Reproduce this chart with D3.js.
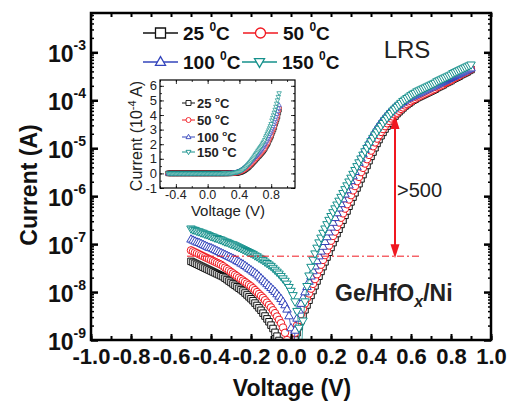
<!DOCTYPE html>
<html>
<head>
<meta charset="utf-8">
<script src="https://cdn.jsdelivr.net/npm/d3@7"></script>
<style>
  body { margin: 0; background: #fff; }
  svg { font-family: "Liberation Sans", Arial, sans-serif; }
</style>
</head>
<body>
<svg id="chart" width="513" height="403"></svg>
<script>
// sweep voltage (V)
const voltage = [
  -0.50,-0.49,-0.48,-0.47,-0.46,-0.45,-0.44,-0.43,-0.42,-0.41,
  -0.40,-0.39,-0.38,-0.37,-0.36,-0.35,-0.34,-0.33,-0.32,-0.31,
  -0.30,-0.29,-0.28,-0.27,-0.26,-0.25,-0.24,-0.23,-0.22,-0.21,
  -0.20,-0.19,-0.18,-0.17,-0.16,-0.15,-0.14,-0.13,-0.12,-0.11,
  -0.10,-0.09,-0.08,-0.07,-0.06,-0.05,-0.04,-0.03,-0.02,-0.01,
  0.00,0.01,0.02,0.03,0.04,0.05,0.06,0.07,0.08,0.09,
  0.10,0.11,0.12,0.13,0.14,0.15,0.16,0.17,0.18,0.19,
  0.20,0.21,0.22,0.23,0.24,0.25,0.26,0.27,0.28,0.29,
  0.30,0.31,0.32,0.33,0.34,0.35,0.36,0.37,0.38,0.39,
  0.40,0.41,0.42,0.43,0.44,0.45,0.46,0.47,0.48,0.49,
  0.50,0.51,0.52,0.53,0.54,0.55,0.56,0.57,0.58,0.59,
  0.60,0.61,0.62,0.63,0.64,0.65,0.66,0.67,0.68,0.69,
  0.70,0.71,0.72,0.73,0.74,0.75,0.76,0.77,0.78,0.79,
  0.80,0.81,0.82,0.83,0.84,0.85,0.86,0.87,0.88,0.89,
  0.90
];

// log10 of |current| (A)
const logI25 = [
  -7.36,-7.38,-7.40,-7.42,-7.44,-7.46,-7.48,-7.50,-7.52,-7.54,
  -7.56,-7.58,-7.60,-7.62,-7.64,-7.66,-7.68,-7.71,-7.74,-7.77,
  -7.80,-7.83,-7.86,-7.89,-7.92,-7.95,-7.98,-8.02,-8.06,-8.10,
  -8.14,-8.18,-8.23,-8.28,-8.33,-8.38,-8.44,-8.50,-8.56,-8.62,
  -8.69,-8.76,-8.84,-8.92,-9.01,-9.11,-9.23,-9.40,-9.70,-10.0,
  -9.60,-9.25,-9.00,-8.85,-8.72,-8.60,-8.48,-8.37,-8.27,-8.17,
  -8.07,-7.97,-7.87,-7.77,-7.67,-7.57,-7.47,-7.37,-7.27,-7.17,
  -7.07,-6.97,-6.88,-6.78,-6.69,-6.59,-6.50,-6.40,-6.31,-6.21,
  -6.12,-6.02,-5.93,-5.83,-5.74,-5.64,-5.55,-5.45,-5.36,-5.26,
  -5.17,-5.08,-4.99,-4.90,-4.82,-4.74,-4.67,-4.60,-4.54,-4.48,
  -4.43,-4.38,-4.33,-4.28,-4.24,-4.20,-4.16,-4.12,-4.09,-4.06,
  -4.03,-4.00,-3.98,-3.95,-3.93,-3.91,-3.89,-3.87,-3.85,-3.83,
  -3.81,-3.79,-3.77,-3.74,-3.72,-3.70,-3.68,-3.65,-3.63,-3.61,
  -3.59,-3.56,-3.54,-3.52,-3.50,-3.47,-3.45,-3.43,-3.41,-3.38,
  -3.36
];
const logI50 = [
  -7.13,-7.15,-7.17,-7.19,-7.21,-7.23,-7.25,-7.27,-7.29,-7.31,
  -7.33,-7.35,-7.37,-7.39,-7.41,-7.43,-7.46,-7.49,-7.52,-7.55,
  -7.58,-7.61,-7.64,-7.67,-7.70,-7.73,-7.76,-7.79,-7.82,-7.85,
  -7.88,-7.92,-7.96,-8.00,-8.04,-8.08,-8.12,-8.17,-8.22,-8.27,
  -8.32,-8.38,-8.44,-8.51,-8.58,-8.65,-8.74,-8.85,-9.00,-9.30,
  -9.60,-9.10,-8.85,-8.70,-8.58,-8.46,-8.35,-8.24,-8.13,-8.03,
  -7.93,-7.83,-7.73,-7.63,-7.53,-7.43,-7.33,-7.23,-7.13,-7.03,
  -6.93,-6.83,-6.74,-6.64,-6.55,-6.45,-6.36,-6.26,-6.17,-6.07,
  -5.98,-5.88,-5.79,-5.69,-5.60,-5.50,-5.41,-5.32,-5.23,-5.14,
  -5.05,-4.96,-4.88,-4.80,-4.73,-4.66,-4.60,-4.54,-4.48,-4.43,
  -4.38,-4.34,-4.30,-4.26,-4.22,-4.18,-4.15,-4.11,-4.08,-4.05,
  -4.02,-3.99,-3.97,-3.94,-3.92,-3.90,-3.88,-3.86,-3.84,-3.82,
  -3.80,-3.78,-3.76,-3.73,-3.71,-3.69,-3.67,-3.64,-3.62,-3.60,
  -3.58,-3.55,-3.53,-3.51,-3.49,-3.46,-3.44,-3.42,-3.40,-3.37,
  -3.35
];
const logI100 = [
  -6.90,-6.92,-6.94,-6.96,-6.97,-6.99,-7.01,-7.03,-7.05,-7.07,
  -7.08,-7.10,-7.12,-7.14,-7.16,-7.18,-7.20,-7.22,-7.24,-7.26,
  -7.28,-7.30,-7.32,-7.35,-7.37,-7.40,-7.42,-7.45,-7.48,-7.51,
  -7.54,-7.57,-7.60,-7.63,-7.67,-7.71,-7.75,-7.79,-7.83,-7.87,
  -7.91,-7.95,-7.99,-8.04,-8.09,-8.14,-8.20,-8.27,-8.36,-8.50,
  -8.75,-9.40,-8.80,-8.55,-8.38,-8.24,-8.12,-8.00,-7.89,-7.78,
  -7.67,-7.56,-7.46,-7.35,-7.25,-7.15,-7.05,-6.95,-6.85,-6.75,
  -6.65,-6.55,-6.45,-6.35,-6.25,-6.16,-6.06,-5.96,-5.87,-5.77,
  -5.68,-5.58,-5.49,-5.39,-5.30,-5.21,-5.12,-5.03,-4.95,-4.87,
  -4.79,-4.72,-4.65,-4.58,-4.52,-4.46,-4.41,-4.36,-4.31,-4.27,
  -4.23,-4.19,-4.15,-4.12,-4.09,-4.06,-4.03,-4.00,-3.97,-3.95,
  -3.93,-3.91,-3.89,-3.87,-3.85,-3.83,-3.81,-3.79,-3.77,-3.75,
  -3.73,-3.71,-3.69,-3.67,-3.65,-3.63,-3.61,-3.59,-3.57,-3.55,
  -3.53,-3.51,-3.49,-3.47,-3.45,-3.43,-3.41,-3.39,-3.37,-3.35,
  -3.33
];
const logI150 = [
  -6.68,-6.70,-6.71,-6.73,-6.74,-6.76,-6.77,-6.79,-6.80,-6.82,
  -6.84,-6.85,-6.87,-6.88,-6.90,-6.91,-6.93,-6.95,-6.96,-6.98,
  -7.00,-7.01,-7.03,-7.05,-7.07,-7.09,-7.11,-7.13,-7.15,-7.17,
  -7.19,-7.21,-7.24,-7.26,-7.29,-7.31,-7.34,-7.37,-7.40,-7.43,
  -7.46,-7.50,-7.54,-7.58,-7.62,-7.67,-7.72,-7.77,-7.83,-7.90,
  -7.98,-8.07,-8.20,-8.40,-8.75,-9.40,-8.60,-8.20,-7.88,-7.66,
  -7.48,-7.33,-7.20,-7.08,-6.97,-6.87,-6.77,-6.68,-6.59,-6.50,
  -6.42,-6.34,-6.26,-6.18,-6.10,-6.02,-5.94,-5.86,-5.78,-5.70,
  -5.62,-5.54,-5.46,-5.38,-5.30,-5.22,-5.14,-5.07,-5.00,-4.93,
  -4.86,-4.79,-4.72,-4.66,-4.60,-4.54,-4.48,-4.42,-4.37,-4.32,
  -4.27,-4.22,-4.18,-4.14,-4.10,-4.06,-4.02,-3.99,-3.96,-3.93,
  -3.90,-3.87,-3.85,-3.82,-3.80,-3.78,-3.76,-3.74,-3.72,-3.70,
  -3.68,-3.66,-3.64,-3.61,-3.59,-3.57,-3.55,-3.53,-3.51,-3.49,
  -3.47,-3.44,-3.42,-3.40,-3.38,-3.36,-3.34,-3.32,-3.30,-3.28,
  -3.26
];

const temperatures = ['25', '50', '100', '150'];
const yTickExps = [-9, -8, -7, -6, -5, -4, -3];
const xTickLabels = ['-1.0', '-0.8', '-0.6', '-0.4', '-0.2', '0.0', '0.2', '0.4', '0.6', '0.8', '1.0'];
const insetYTicks = ['-1', '0', '1', '2', '3', '4', '5', '6'];
const insetXTicks = ['-0.4', '0.0', '0.4', '0.8'];

// annotation levels
const refLevel = 5.6e-8;      // dash-dot line
const arrowV = 0.52;
const arrowTop = 4.9e-5;
const ratioText = '>500';

const colors = ['#111111', '#f01820', '#3344bb', '#14908b'];
const shapes = ['square', 'circle', 'up', 'down'];
const currents = [logI25, logI50, logI100, logI150];

const svg = d3.select('#chart');

const x = d3.scaleLinear().domain([-1, 1]).range([91, 491]);
const y = d3.scaleLog().domain([1e-9, Math.pow(10, -2.18)]).range([340, 13]);

function markerPath(shape, s) {
  const h = s * 0.866;
  if (shape === 'square') return `M${-s / 2},${-s / 2}h${s}v${s}h${-s}Z`;
  if (shape === 'circle') return d3.symbol(d3.symbolCircle, Math.PI * (s / 2) * (s / 2))();
  if (shape === 'up') return `M0,${-h * 0.62}L${s / 2},${h * 0.38}L${-s / 2},${h * 0.38}Z`;
  return `M0,${h * 0.62}L${s / 2},${-h * 0.38}L${-s / 2},${-h * 0.38}Z`;
}
const markerSize = {square: 6.5, circle: 7.5, up: 8.5, down: 8.5};

svg.append('defs').append('clipPath').attr('id', 'clip')
  .append('rect').attr('x', 91).attr('y', 13).attr('width', 400).attr('height', 327);

// ---- main data ----
const plot = svg.append('g').attr('clip-path', 'url(#clip)');
const line = d3.line().x(d => x(d[0])).y(d => y(d[1]));

currents.forEach((logs, k) => {
  const pts = voltage.map((v, i) => [v, Math.pow(10, logs[i])]);
  plot.append('path').datum(pts)
    .attr('d', line)
    .attr('fill', 'none')
    .attr('stroke', colors[k])
    .attr('stroke-width', 0.8);
  plot.selectAll(null).data(pts).enter().append('path')
    .attr('d', markerPath(shapes[k], markerSize[shapes[k]]))
    .attr('transform', d => `translate(${x(d[0])},${y(d[1])})`)
    .attr('fill', '#fff')
    .attr('stroke', colors[k])
    .attr('stroke-width', 1);
});

// dash-dot reference line and arrow
svg.append('line')
  .attr('x1', x(-0.52)).attr('x2', x(0.655))
  .attr('y1', y(refLevel)).attr('y2', y(refLevel))
  .attr('stroke', '#f01820').attr('stroke-width', 1)
  .attr('stroke-dasharray', '7,3,2,3');

const ax = x(arrowV);
const yTop = y(arrowTop), yBot = y(refLevel) + 2;
svg.append('line')
  .attr('x1', ax).attr('x2', ax).attr('y1', yTop + 10).attr('y2', yBot - 10)
  .attr('stroke', '#f01820').attr('stroke-width', 2);
svg.append('path')
  .attr('d', `M${ax},${yTop}L${ax + 4.5},${yTop + 14}L${ax - 4.5},${yTop + 14}Z`)
  .attr('fill', '#f01820');
svg.append('path')
  .attr('d', `M${ax},${yBot}L${ax + 4.5},${yBot - 14}L${ax - 4.5},${yBot - 14}Z`)
  .attr('fill', '#f01820');

svg.append('text').attr('x', 397).attr('y', 197)
  .attr('font-size', 20).attr('fill', '#222').text(ratioText);
svg.append('text').attr('x', 407).attr('y', 58)
  .attr('text-anchor', 'middle').attr('font-size', 24).attr('fill', '#222').text('LRS');

const ge = svg.append('text').attr('x', 335).attr('y', 301)
  .attr('font-size', 23).attr('font-weight', 'bold').attr('fill', '#222');
ge.append('tspan').text('Ge/HfO');
ge.append('tspan').attr('dy', 6).attr('font-size', 16).attr('font-style', 'italic').text('x');
ge.append('tspan').attr('dy', -6).text('/Ni');

// ---- axes ----
const xMinor = d3.range(-10, 11).map(d => d / 10);
const xMajor = xTickLabels.map(Number);
const yMinor = y.ticks().filter(v => Math.abs(Math.log10(v) - Math.round(Math.log10(v))) > 1e-6);
const yMajor = yTickExps.map(e => Math.pow(10, e));

function styleTicks(g, w) {
  g.select('.domain').remove();
  g.selectAll('.tick line').attr('stroke', '#000').attr('stroke-width', w);
}

svg.append('g').attr('transform', 'translate(0,340)')
  .call(d3.axisBottom(x).tickValues(xMinor).tickSize(-4).tickFormat(''))
  .call(g => styleTicks(g, 2));
svg.append('g').attr('transform', 'translate(0,13)')
  .call(d3.axisTop(x).tickValues(xMinor).tickSize(-4).tickFormat(''))
  .call(g => styleTicks(g, 2));
svg.append('g').attr('transform', 'translate(0,340)')
  .call(d3.axisBottom(x).tickValues(xMajor).tickSize(-6).tickPadding(8)
    .tickFormat((d, i) => xTickLabels[i]))
  .call(g => styleTicks(g, 2))
  .call(g => g.selectAll('text').attr('font-size', 22).attr('font-weight', 'bold')
    .attr('fill', '#111').attr('font-family', '"Liberation Sans", Arial, sans-serif'));

[[91, d3.axisLeft], [491, d3.axisRight]].forEach(([px, axisFn]) => {
  svg.append('g').attr('transform', `translate(${px},0)`)
    .call(axisFn(y).tickValues(yMinor).tickSize(-3).tickFormat(''))
    .call(g => styleTicks(g, 1.5));
  svg.append('g').attr('transform', `translate(${px},0)`)
    .call(axisFn(y).tickValues(yMajor).tickSize(-7).tickFormat(''))
    .call(g => styleTicks(g, 2.5));
});

// y tick labels with superscripts
const yLab = svg.append('g').attr('font-weight', 'bold').attr('fill', '#111');
yTickExps.forEach(e => {
  const t = yLab.append('text')
    .attr('x', 86).attr('y', y(Math.pow(10, e)) + 10)
    .attr('text-anchor', 'end').attr('font-size', 23);
  t.append('tspan').text('10');
  t.append('tspan').attr('dy', -12).attr('font-size', 14).text(String(e));
});

svg.append('rect')
  .attr('x', 91).attr('y', 13).attr('width', 400).attr('height', 327)
  .attr('fill', 'none').attr('stroke', '#000').attr('stroke-width', 2.5);

svg.append('text')
  .attr('x', 292).attr('y', 396).attr('text-anchor', 'middle')
  .attr('font-size', 23).attr('font-weight', 'bold').attr('fill', '#111')
  .text('Voltage (V)');
svg.append('text')
  .attr('transform', 'translate(37,185) rotate(-90)').attr('text-anchor', 'middle')
  .attr('font-size', 23).attr('font-weight', 'bold').attr('fill', '#111')
  .text('Current (A)');

// ---- main legend ----
const legendPos = [[143, 33], [243, 33], [143, 62], [242, 62]];
temperatures.forEach((t, k) => {
  const [lx, ly] = legendPos[k];
  const g = svg.append('g');
  g.append('line').attr('x1', lx).attr('x2', lx + 35).attr('y1', ly).attr('y2', ly)
    .attr('stroke', colors[k]).attr('stroke-width', 1.5);
  g.append('path').attr('d', markerPath(shapes[k], 10))
    .attr('transform', `translate(${lx + 17.5},${ly})`)
    .attr('fill', '#fff').attr('stroke', colors[k]).attr('stroke-width', 1.3);
  const txt = g.append('text').attr('x', lx + 40).attr('y', ly + 7)
    .attr('font-size', 19).attr('font-weight', 'bold').attr('fill', '#111');
  txt.append('tspan').text(t + ' ');
  txt.append('tspan').attr('dy', -9).attr('font-size', 12).text('0');
  txt.append('tspan').attr('dy', 9).text('C');
});

// ---- inset ----
const ix = d3.scaleLinear().domain([-0.6, 1.1]).range([160, 295]);
const iy = d3.scaleLinear().domain([-1, 6.4]).range([188, 80]);
const inset = svg.append('g');
inset.append('rect').attr('x', 160).attr('y', 80).attr('width', 135).attr('height', 108)
  .attr('fill', '#fff');

currents.forEach((logs, k) => {
  const pts = voltage.map((v, i) => [v, Math.pow(10, logs[i]) / 1e-4]);
  inset.append('path').datum(pts)
    .attr('d', d3.line().x(d => ix(d[0])).y(d => iy(d[1])))
    .attr('fill', 'none').attr('stroke', colors[k]).attr('stroke-width', 0.8);
  inset.selectAll(null).data(pts).enter().append('path')
    .attr('d', markerPath(shapes[k], 4.5))
    .attr('transform', d => `translate(${ix(d[0])},${iy(d[1])})`)
    .attr('fill', '#fff').attr('stroke', colors[k]).attr('stroke-width', 0.7);
});

const iyMajor = insetYTicks.map(Number);
const iyMinor = d3.range(-1, 6.5, 0.5);
const ixMajor = insetXTicks.map(Number);
const ixMinor = d3.range(-0.6, 1.11, 0.2).map(d => Math.round(d * 10) / 10);

[[188, d3.axisBottom], [80, d3.axisTop]].forEach(([py, axisFn]) => {
  inset.append('g').attr('transform', `translate(0,${py})`)
    .call(axisFn(ix).tickValues(ixMinor).tickSize(-2).tickFormat(''))
    .call(g => styleTicks(g, 0.8));
  inset.append('g').attr('transform', `translate(0,${py})`)
    .call(axisFn(ix).tickValues(ixMajor).tickSize(-4).tickFormat(''))
    .call(g => styleTicks(g, 0.8));
});
[[160, d3.axisLeft], [295, d3.axisRight]].forEach(([px, axisFn]) => {
  inset.append('g').attr('transform', `translate(${px},0)`)
    .call(axisFn(iy).tickValues(iyMinor).tickSize(-2).tickFormat(''))
    .call(g => styleTicks(g, 0.8));
  inset.append('g').attr('transform', `translate(${px},0)`)
    .call(axisFn(iy).tickValues(iyMajor).tickSize(-4).tickFormat(''))
    .call(g => styleTicks(g, 0.8));
});

inset.append('rect').attr('x', 160).attr('y', 80).attr('width', 135).attr('height', 108)
  .attr('fill', 'none').attr('stroke', '#000').attr('stroke-width', 1.2);

insetYTicks.forEach(t => {
  inset.append('text').attr('x', 157).attr('y', iy(+t) + 4.5)
    .attr('text-anchor', 'end').attr('font-size', 13).attr('fill', '#222').text(t);
});
insetXTicks.forEach(t => {
  inset.append('text').attr('x', ix(+t)).attr('y', 199)
    .attr('text-anchor', 'middle').attr('font-size', 12.5).attr('fill', '#222').text(t);
});
inset.append('text').attr('x', 228).attr('y', 216)
  .attr('text-anchor', 'middle').attr('font-size', 15).attr('fill', '#222')
  .text('Voltage (V)');
const iyt = inset.append('text')
  .attr('transform', 'translate(142,136) rotate(-90)').attr('text-anchor', 'middle')
  .attr('font-size', 16).attr('fill', '#222');
iyt.append('tspan').text('Current  (10');
iyt.append('tspan').attr('dy', -6).attr('font-size', 11).text('-4');
iyt.append('tspan').attr('dy', 6).text(' A)');

const insetLegendY = [103, 120, 137, 152];
temperatures.forEach((t, k) => {
  const ly = insetLegendY[k];
  inset.append('line').attr('x1', 182).attr('x2', 195).attr('y1', ly).attr('y2', ly)
    .attr('stroke', colors[k]).attr('stroke-width', 1);
  inset.append('path').attr('d', markerPath(shapes[k], 5))
    .attr('transform', `translate(188.5,${ly})`)
    .attr('fill', '#fff').attr('stroke', colors[k]).attr('stroke-width', 0.9);
  const txt = inset.append('text').attr('x', 197).attr('y', ly + 5)
    .attr('font-size', 13).attr('font-weight', 'bold').attr('fill', '#222');
  txt.append('tspan').text(t + ' ');
  txt.append('tspan').attr('dy', -6).attr('font-size', 8).text('o');
  txt.append('tspan').attr('dy', 6).text('C');
});
</script>
</body>
</html>
